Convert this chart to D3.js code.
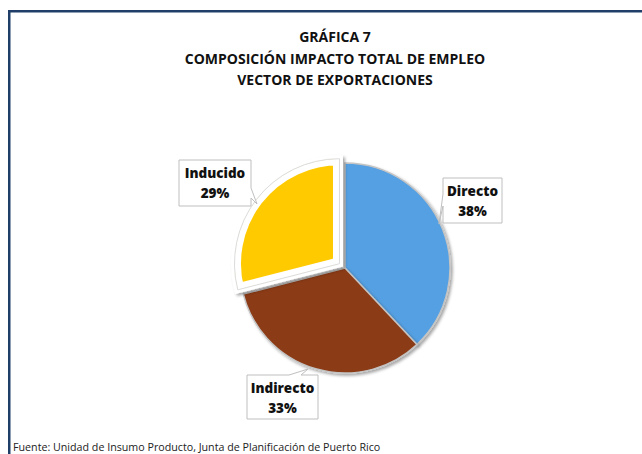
<!DOCTYPE html>
<html>
<head>
<meta charset="UTF-8">
<title>Gráfica 7</title>
<script src="https://cdn.jsdelivr.net/npm/d3@7"></script>
<style>
  html, body { margin: 0; padding: 0; background: #fff; }
  text { font-family: "Open Sans", sans-serif; }
</style>
</head>
<body>
<div id="chart"></div>
<script>
// chart values
const titleLines = ["GRÁFICA 7", "COMPOSICIÓN IMPACTO TOTAL DE EMPLEO", "VECTOR DE EXPORTACIONES"];
const categories = ["Directo", "Indirecto", "Inducido"];
const shares = [38, 33, 29];
const sliceColors = ["#55A0E2", "#8B3A15", "#FFCB05"];
const explodedSlice = "Inducido";
const sourceNote = "Fuente: Unidad de Insumo Producto, Junta de Planificación de Puerto Rico";

// layout
const w = 642, h = 454;
const cx = 345, cy = 268, radius = 105;
const explodeBy = 7;
// callout boxes: [x, y, width, height], tail tip, tail base side
const callouts = {
  "Directo":   { box: [443, 178, 59, 45], tip: [439, 224], side: "left",   base: [194, 206] },
  "Indirecto": { box: [247, 375, 71, 44], tip: [308, 369], side: "top",    base: [289, 301] },
  "Inducido":  { box: [179, 160, 72, 46], tip: [257, 204], side: "right",  base: [188, 198] }
};

const svg = d3.select("#chart").append("svg")
  .attr("width", w).attr("height", h);

const defs = svg.append("defs");
const shadow = defs.append("filter").attr("id", "shadow")
  .attr("x", "-20%").attr("y", "-20%").attr("width", "140%").attr("height", "140%");
shadow.append("feDropShadow").attr("dx", 2).attr("dy", 2)
  .attr("stdDeviation", 1.8).attr("flood-color", "#000").attr("flood-opacity", 0.35);

// frame lines
svg.append("rect").attr("x", 8).attr("y", 10).attr("width", w - 8).attr("height", 2.5).attr("fill", "#1F3F68");
svg.append("rect").attr("x", 8).attr("y", 10).attr("width", 2.5).attr("height", h - 10).attr("fill", "#1F3F68");

// title
svg.append("g").selectAll("text")
  .data(titleLines)
  .join("text")
  .attr("x", 335)
  .attr("y", (d, i) => 42 + i * 21.5)
  .attr("text-anchor", "middle")
  .style("font-size", "14px")
  .style("font-weight", 700)
  .attr("fill", "#111")
  .text(d => d);

const pie = d3.pie().sort(null).value(d => d.value);
const data = categories.map((c, i) => ({ name: c, value: shares[i], color: sliceColors[i] }));
const arcs = pie(data);
const arc = d3.arc().innerRadius(0).outerRadius(radius);

const pieG = svg.append("g").attr("transform", `translate(${cx},${cy})`);

arcs.forEach((a, i) => {
  const mid = (a.startAngle + a.endAngle) / 2;
  const off = a.data.name === explodedSlice ? explodeBy : 0;
  const g = pieG.append("g")
    .attr("transform", `translate(${Math.sin(mid) * off},${-Math.cos(mid) * off})`)
    .attr("filter", "url(#shadow)");
  const p = arc(a);
  if (a.data.name === explodedSlice) {
    // white bevel frame around the pulled-out slice
    defs.append("clipPath").attr("id", "clip" + i).append("path").attr("d", p);
    g.append("path").attr("d", p)
      .attr("fill", "#fff")
      .attr("stroke", "#fff")
      .attr("stroke-width", 7)
      .attr("stroke-linejoin", "miter");
    g.append("path").attr("d", p)
      .attr("fill", a.data.color)
      .attr("stroke", "#fff")
      .attr("stroke-width", 13)
      .attr("stroke-linejoin", "miter")
      .attr("clip-path", `url(#clip${i})`);
    g.append("path").attr("d", p).attr("fill", "none")
      .attr("stroke", "#dcdcdc").attr("stroke-width", 1);
  } else {
    g.append("path").attr("d", p)
      .attr("fill", a.data.color)
      .attr("stroke", "#c4c4c4")
      .attr("stroke-width", 1.5);
  }
});

// callouts
function calloutPath(c) {
  const [x, y, bw, bh] = c.box;
  const [t0, t1] = c.base;
  const tip = c.tip;
  let pts;
  if (c.side === "left") {
    pts = [[x, y], [x + bw, y], [x + bw, y + bh], [x, y + bh], [x, t1], tip, [x, t0]];
  } else if (c.side === "right") {
    pts = [[x, y], [x + bw, y], [x + bw, t0], tip, [x + bw, t1], [x + bw, y + bh], [x, y + bh]];
  } else {
    pts = [[x, y], [t0, y], tip, [t1, y], [x + bw, y], [x + bw, y + bh], [x, y + bh]];
  }
  return "M" + pts.map(p => p.join(",")).join("L") + "Z";
}

const labelG = svg.append("g");
data.forEach((d, i) => {
  const c = callouts[d.name];
  const [x, y, bw, bh] = c.box;
  labelG.append("path")
    .attr("d", calloutPath(c))
    .attr("fill", "#fff")
    .attr("stroke", "#bfbfbf")
    .attr("stroke-width", 1);
  const t = labelG.append("text")
    .attr("text-anchor", "middle")
    .style("font-size", "13.5px")
    .style("font-weight", 800)
    .attr("fill", "#111");
  t.append("tspan").attr("x", x + bw / 2).attr("y", y + 17.5).text(d.name);
  t.append("tspan").attr("x", x + bw / 2).attr("y", y + 37.5).text(d.value + "%");
});

// source
svg.append("text")
  .attr("x", 13)
  .attr("y", 451)
  .style("font-size", "10.7px")
  .attr("fill", "#222")
  .text(sourceNote);
</script>
</body>
</html>
